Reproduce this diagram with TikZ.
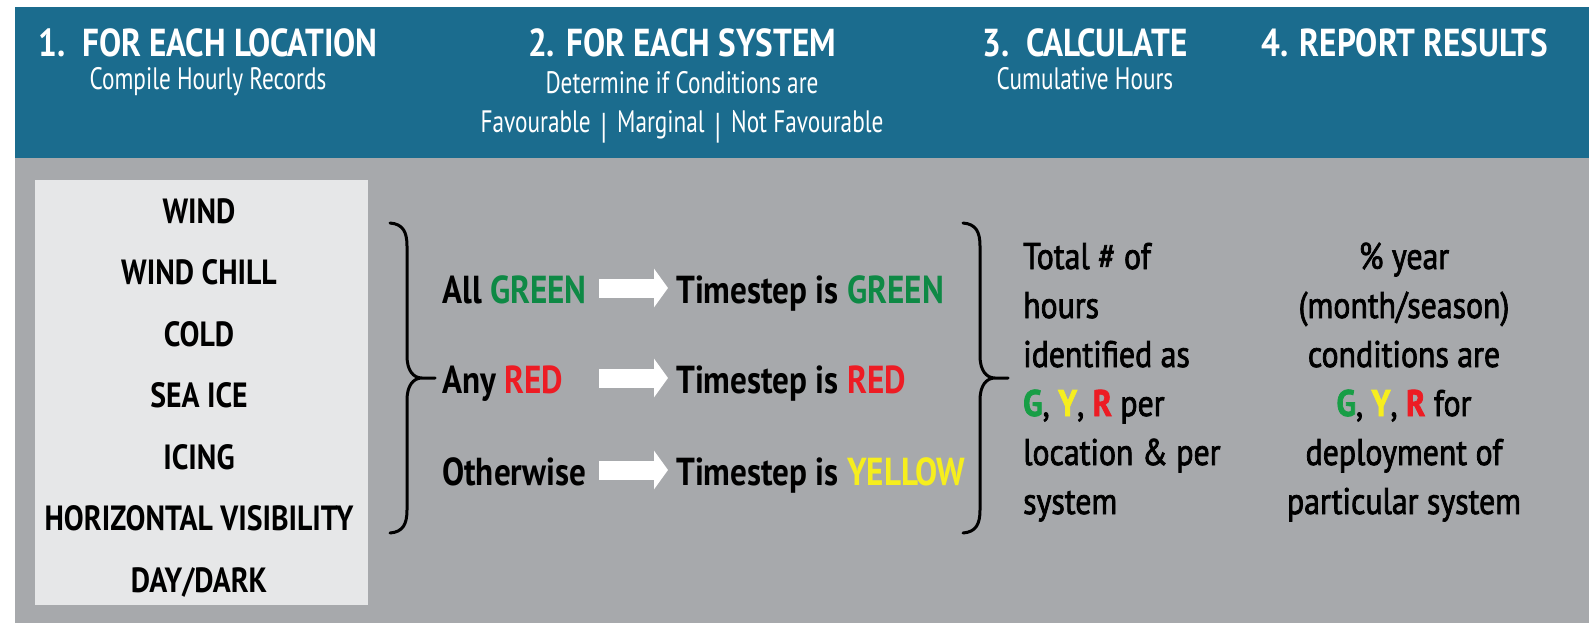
\documentclass[tikz,border=0pt]{standalone}
\usepackage{fontspec}
\setmainfont{PT Sans}
\newfontfamily\headfont[FakeStretch=0.85]{PT Sans}
\newfontfamily\narrowfont[FakeStretch=0.75]{PT Sans}
\newfontfamily\bodyfont[FakeStretch=0.86,FakeBold=2]{PT Sans}
\newcommand{\condsep}{\hspace{10pt}\raisebox{-6pt}{\fontsize{36}{36}\selectfont|}\hspace{10pt}}
\usepackage{tikz}
\usetikzlibrary{arrows.meta}

\definecolor{headblue}{RGB}{27,108,142}
\definecolor{panelgray}{RGB}{167,169,172}
\definecolor{listgray}{RGB}{230,231,232}
\definecolor{okgreen}{RGB}{14,137,69}
\definecolor{gletter}{RGB}{24,158,70}
\definecolor{badred}{RGB}{237,28,36}
\definecolor{warnyellow}{RGB}{246,238,30}

\tikzset{
  title/.style={font=\headfont\bfseries\fontsize{39}{40}\selectfont, text=white, inner sep=0pt, anchor=base},
  subtitle/.style={font=\narrowfont\fontsize{31}{39}\selectfont, text=white, inner sep=0pt, anchor=base, align=center},
  listtxt/.style={font=\headfont\bfseries\fontsize{35}{61.5}\selectfont, inner sep=0pt, anchor=base, align=center},
  cond/.style={font=\headfont\bfseries\fontsize{39}{40}\selectfont, inner sep=0pt, anchor=base west, text height=30pt, text depth=0pt},
  body/.style={font=\bodyfont\fontsize{37}{49}\selectfont, inner sep=0pt},
  fatarrow/.style={draw=white, line width=19pt, -{Triangle[length=14pt,width=38pt]}, shorten >=8pt},
  curly/.pic={\draw[line width=3pt, line cap=round]
    (0,0) .. controls (13,1) and (17,9) .. (17,23) -- (17,133)
    .. controls (17,147) and (23,155) .. (32,155) -- (45,155)
    (32,155) .. controls (23,155) and (17,163) .. (17,177) -- (17,287)
    .. controls (17,301) and (13,309) .. (0,310);}
}

\begin{document}
\begin{tikzpicture}[x=1pt,y=-1pt]
  \useasboundingbox (0,0) rectangle (1589,623);
  % panels
  \fill[white] (0,0) rectangle (1589,623);
  \fill[panelgray] (15,7) rectangle (1589,623);
  \fill[headblue] (15,7) rectangle (1589,158);
  \fill[listgray] (35,180) rectangle (368,605);

  % header
  \node[title] (step1) at (208,57) {1.\ \ FOR EACH LOCATION};
  \node[subtitle] (step1sub) at (208,90) {Compile Hourly Records};
  \node[title] (step2) at (682,57) {2. FOR EACH SYSTEM};
  \node[subtitle] (step2sub) at (682,132) {Determine if Conditions are\\Favourable\condsep Marginal\condsep Not Favourable};
  \node[title] (step3) at (1085,57) {3.\ \ CALCULATE};
  \node[subtitle] (step3sub) at (1085,90) {Cumulative Hours};
  \node[title] (step4) at (1405,57) {4. REPORT RESULTS};

  % parameters (base = last line)
  \node[listtxt] (params) at (199,592) {WIND\\WIND CHILL\\COLD\\SEA ICE\\ICING\\HORIZONTAL VISIBILITY\\DAY/DARK};

  % braces
  \pic at (390,223) {curly};
  \pic at (963,223) {curly};

  % rules
  \node[cond] (allg) at (442,303) {All \textcolor{okgreen}{GREEN}};
  \node[cond] (anyr) at (442,393) {Any \textcolor{badred}{RED}};
  \node[cond] (other) at (442,485) {Otherwise};
  \node[cond] (tsg) at (676,303) {Timestep is \textcolor{okgreen}{GREEN}};
  \node[cond] (tsr) at (676,393) {Timestep is \textcolor{badred}{RED}};
  \node[cond] (tsy) at (676,485) {Timestep is \textcolor{warnyellow}{YELLOW}};
  \draw[fatarrow] ([xshift=-77pt]tsg.west) -- (tsg.west);
  \draw[fatarrow] ([xshift=-77pt]tsr.west) -- (tsr.west);
  \draw[fatarrow] ([xshift=-77pt]tsy.west) -- (tsy.west);

  % results (base = last line)
  \node[body, anchor=base west, align=left] (hours) at (1023,514) {Total \# of\\hours\\identified as\\\textbf{\textcolor{gletter}{G}}, \textbf{\textcolor{warnyellow}{Y}}, \textbf{\textcolor{badred}{R}} per\\location \& per\\system};
  \node[body, anchor=base, align=center] (share) at (1404,514) {\% year\\(month/season)\\conditions are\\\textbf{\textcolor{gletter}{G}}, \textbf{\textcolor{warnyellow}{Y}}, \textbf{\textcolor{badred}{R}} for\\deployment of\\particular system};
\end{tikzpicture}
\end{document}
